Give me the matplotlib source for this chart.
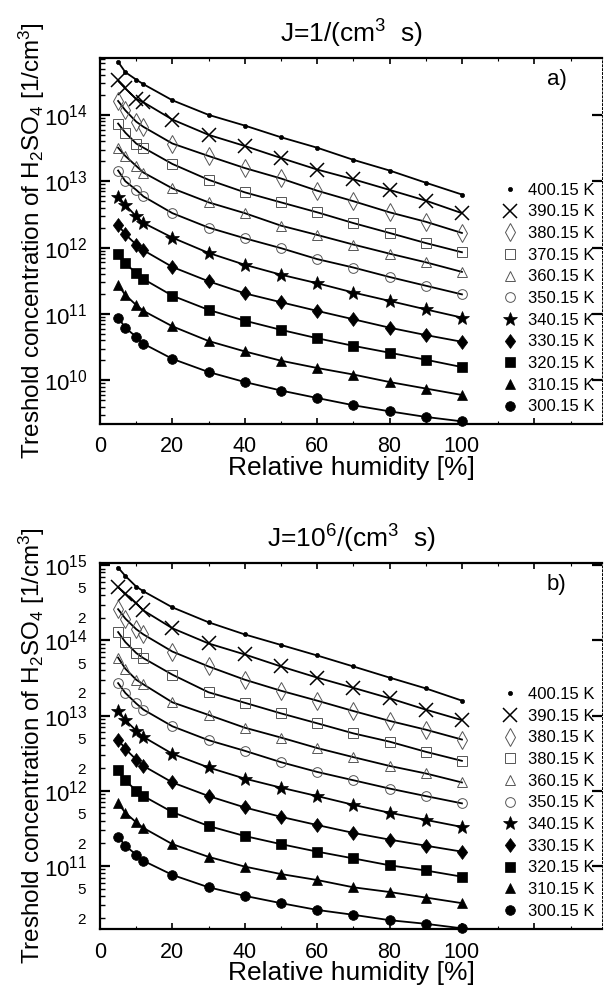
import numpy as np
import matplotlib
matplotlib.use("Agg")
from matplotlib import pyplot as plt
from matplotlib.ticker import LogLocator, FixedLocator, NullFormatter, FuncFormatter

plt.rcParams['font.family'] = ['Liberation Sans', 'DejaVu Sans']
plt.rcParams['mathtext.fontset'] = 'custom'
plt.rcParams['mathtext.rm'] = 'Liberation Sans'
plt.rcParams['mathtext.it'] = 'Liberation Sans'
plt.rcParams['mathtext.default'] = 'regular'

rh = [5, 7, 10, 12, 20, 30, 40, 50, 60, 70, 80, 90, 100]

# panel a) J = 1 /(cm^3 s), threshold concentration [1/cm^3]
a_labels = ['400.15 K', '390.15 K', '380.15 K', '370.15 K', '360.15 K', '350.15 K',
            '340.15 K', '330.15 K', '320.15 K', '310.15 K', '300.15 K']
a_400 = [6.3e14, 4.4e14, 3.4e14, 2.9e14, 1.66e14, 1.0e14, 6.9e13, 4.6e13, 3.2e13, 2.1e13, 1.45e13, 9.5e12, 6.3e12]
a_390 = [3.3e14, 2.5e14, 1.74e14, 1.55e14, 8.5e13, 5.0e13, 3.4e13, 2.24e13, 1.5e13, 1.07e13, 7.4e12, 5.1e12, 3.3e12]
a_380 = [1.62e14, 1.17e14, 7.9e13, 6.6e13, 3.7e13, 2.4e13, 1.58e13, 1.1e13, 7.2e12, 5.0e12, 3.4e12, 2.45e12, 1.66e12]
a_370 = [7.4e13, 5.4e13, 3.7e13, 3.2e13, 1.82e13, 1.05e13, 6.8e12, 4.8e12, 3.4e12, 2.34e12, 1.66e12, 1.17e12, 8.5e11]
a_360 = [3.2e13, 2.4e13, 1.7e13, 1.35e13, 7.8e12, 4.8e12, 3.3e12, 2.14e12, 1.55e12, 1.11e12, 8.1e11, 6.0e11, 4.3e11]
a_350 = [1.45e13, 1.0e13, 7.4e12, 5.9e12, 3.3e12, 2.0e12, 1.38e12, 9.8e11, 6.7e11, 5.0e11, 3.6e11, 2.66e11, 1.97e11]
a_340 = [5.8e12, 4.4e12, 2.95e12, 2.35e12, 1.41e12, 8.3e11, 5.5e11, 3.9e11, 2.9e11, 2.1e11, 1.57e11, 1.17e11, 8.8e10]
a_330 = [2.2e12, 1.58e12, 1.11e12, 9.1e11, 5.1e11, 3.1e11, 2.04e11, 1.5e11, 1.11e11, 8.3e10, 6.2e10, 4.8e10, 3.8e10]
a_320 = [8.1e11, 5.8e11, 4.1e11, 3.35e11, 1.88e11, 1.15e11, 7.9e10, 5.75e10, 4.3e10, 3.3e10, 2.6e10, 2.04e10, 1.58e10]
a_310 = [2.72e11, 1.93e11, 1.36e11, 1.11e11, 6.5e10, 3.9e10, 2.72e10, 1.97e10, 1.53e10, 1.22e10, 9.4e9, 7.5e9, 6.0e9]
a_300 = [8.8e10, 6.2e10, 4.5e10, 3.55e10, 2.1e10, 1.33e10, 9.4e9, 7.0e9, 5.4e9, 4.2e9, 3.4e9, 2.8e9, 2.4e9]

# panel b) J = 10^6 /(cm^3 s)
b_labels = ['400.15 K', '390.15 K', '380.15 K', '380.15 K', '360.15 K', '350.15 K',
            '340.15 K', '330.15 K', '320.15 K', '310.15 K', '300.15 K']
b_400 = [9.3e14, 7.2e14, 5.2e14, 4.5e14, 2.75e14, 1.74e14, 1.2e14, 8.7e13, 6.3e13, 4.5e13, 3.2e13, 2.3e13, 1.58e13]
b_390 = [5.1e14, 4.2e14, 3.1e14, 2.5e14, 1.45e14, 9.1e13, 6.5e13, 4.5e13, 3.2e13, 2.34e13, 1.7e13, 1.2e13, 8.7e12]
b_380 = [2.6e14, 1.95e14, 1.41e14, 1.2e14, 7.1e13, 4.5e13, 3.0e13, 2.14e13, 1.58e13, 1.15e13, 8.5e12, 6.5e12, 4.8e12]
b_370 = [1.29e14, 9.5e13, 6.8e13, 5.8e13, 3.5e13, 2.04e13, 1.48e13, 1.07e13, 7.9e12, 5.8e12, 4.5e12, 3.3e12, 2.5e12]
b_360 = [5.9e13, 4.2e13, 3.0e13, 2.6e13, 1.5e13, 1.02e13, 6.9e12, 5.1e12, 3.7e12, 2.8e12, 2.14e12, 1.7e12, 1.29e12]
b_350 = [2.7e13, 2.0e13, 1.45e13, 1.2e13, 7.2e12, 4.7e12, 3.4e12, 2.4e12, 1.78e12, 1.38e12, 1.07e12, 8.5e11, 6.8e11]
b_340 = [1.15e13, 8.7e12, 6.3e12, 5.2e12, 3.1e12, 2.04e12, 1.45e12, 1.1e12, 8.5e11, 6.5e11, 5.1e11, 4.1e11, 3.3e11]
b_330 = [4.8e12, 3.6e12, 2.6e12, 2.14e12, 1.29e12, 8.5e11, 6.0e11, 4.5e11, 3.5e11, 2.75e11, 2.24e11, 1.86e11, 1.55e11]
b_320 = [1.86e12, 1.38e12, 1.0e12, 8.5e11, 5.2e11, 3.4e11, 2.5e11, 1.95e11, 1.55e11, 1.26e11, 1.02e11, 8.7e10, 7.2e10]
b_310 = [6.8e11, 5.1e11, 3.8e11, 3.2e11, 1.95e11, 1.32e11, 9.8e10, 7.8e10, 6.5e10, 5.2e10, 4.5e10, 3.8e10, 3.2e10]
b_300 = [2.45e11, 1.86e11, 1.41e11, 1.17e11, 7.6e10, 5.2e10, 4.0e10, 3.2e10, 2.6e10, 2.24e10, 1.9e10, 1.7e10, 1.48e10]

a_series = [a_400, a_390, a_380, a_370, a_360, a_350, a_340, a_330, a_320, a_310, a_300]
b_series = [b_400, b_390, b_380, b_370, b_360, b_350, b_340, b_330, b_320, b_310, b_300]

gray = '#555555'
fat_diamond = [(0, 1), (0.75, 0), (0, -1), (-0.75, 0), (0, 1)]
# marker, size, face, edge, edge width
styles = [
    ('o', 3.0, 'black', 'black', 0.5),
    ('x', 10, 'none', 'black', 1.1),
    ('d', 9, 'none', gray, 0.7),
    ('s', 7, 'none', gray, 0.7),
    ('^', 7, 'none', gray, 0.7),
    ('o', 7, 'none', gray, 0.7),
    ('*', 10.5, 'black', 'black', 0.5),
    (fat_diamond, 10, 'black', 'black', 0.5),
    ('s', 7, 'black', 'black', 0.5),
    ('^', 7, 'black', 'black', 0.5),
    ('o', 7, 'black', 'black', 0.5),
]

fig = plt.figure(figsize=(6.04, 9.86), dpi=100)
W, H = 604.0, 986.0
ax_a = fig.add_axes([100 / W, 1 - 424 / H, 502 / W, 366 / H])
ax_b = fig.add_axes([100 / W, 1 - 929 / H, 502 / W, 366 / H])


def decade_fmt(v, pos):
    e = int(round(np.log10(v)))
    return r'$10^{%d}$' % e


def minor_fmt(v, pos):
    m = v / 10 ** np.floor(np.log10(v) + 1e-9)
    m = int(round(m))
    return str(m) if m in (2, 5) else ''


def setup(ax, series, labels, ylim, title, tag, minor_labels, leg_y):
    handles = []
    for vals, (mk, ms, fc, ec, mew) in zip(series, styles):
        ax.plot(rh, vals, '-', color='black', lw=1.3, zorder=2)
        h, = ax.plot(rh, vals, ls='none', marker=mk, ms=ms, mfc=fc, mec=ec, mew=mew, zorder=3,
                     clip_on=False)
        handles.append(h)
    ax.set_yscale('log')
    ax.set_xlim(0, 138.7)
    ax.set_ylim(*ylim)

    ax.xaxis.set_major_locator(FixedLocator([0, 20, 40, 60, 80, 100, 120, 140]))
    ax.xaxis.set_minor_locator(FixedLocator([10, 30, 50, 70, 90, 110, 130]))
    ax.xaxis.set_major_formatter(FuncFormatter(lambda v, p: '%d' % v if v <= 100 else ''))
    ax.yaxis.set_major_locator(LogLocator(base=10, numticks=20))
    ax.yaxis.set_minor_locator(LogLocator(base=10, subs=np.arange(2, 10), numticks=20))
    ax.yaxis.set_major_formatter(FuncFormatter(decade_fmt))
    if minor_labels:
        ax.yaxis.set_minor_formatter(FuncFormatter(minor_fmt))
    else:
        ax.yaxis.set_minor_formatter(NullFormatter())

    ax.tick_params(axis='x', which='major', direction='in', length=4, width=1.2,
                   top=True, labelsize=15.5, pad=9)
    ax.tick_params(axis='x', which='minor', direction='in', length=2, width=0.8, top=True)
    ax.tick_params(axis='y', which='major', direction='in', length=7, width=1.6,
                   right=True, labelsize=16, pad=9)
    ax.tick_params(axis='y', which='minor', direction='in', length=3.5, width=1.0,
                   right=False, labelsize=11, pad=10)

    for s in ('left', 'bottom', 'top'):
        ax.spines[s].set_linewidth(1.6)
    ax.spines['right'].set_linewidth(0.7)
    ax.spines['right'].set_linestyle((0, (2, 2)))

    ax.set_xlabel('Relative humidity [%]', fontsize=19, labelpad=-1)
    ax.set_ylabel(r'Treshold concentration of H$_2$SO$_4$ [1/cm$^3$]', fontsize=17.5)
    ax.yaxis.set_label_coords(-0.105, 0.5)
    ax.set_title(title, fontsize=19, pad=11)
    ax.text(0.91, 0.94, tag, transform=ax.transAxes, fontsize=16, ha='center', va='center')

    ax.legend(handles, labels, loc='lower left', bbox_to_anchor=(0.800, leg_y),
              frameon=False, fontsize=12, handlelength=1.0, handletextpad=0.57,
              labelspacing=0.40, borderpad=0, borderaxespad=0, numpoints=1)


setup(ax_a, a_series, a_labels, (2.19e9, 7.2e14), r'J=1/(cm$^3$  s)', 'a)', False, 0.026)
setup(ax_b, b_series, b_labels, (1.45e10, 1.07e15), r'J=10$^6$/(cm$^3$  s)', 'b)', True, 0.028)

fig.savefig('out.png', dpi=100)
